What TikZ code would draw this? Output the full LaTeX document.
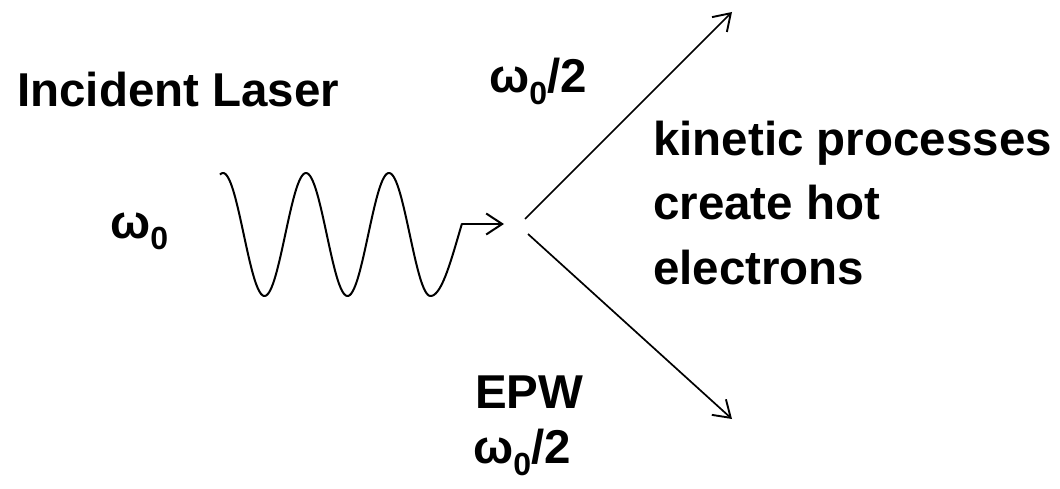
\documentclass[tikz,border=0pt]{standalone}
\usepackage{fontspec}
\setmainfont{Liberation Sans}
\usetikzlibrary{arrows.meta}
\newcommand\mysub[1]{\raisebox{-12pt}{\fontsize{32}{32}\selectfont #1}}
\tikzset{
  lbl/.style={inner sep=0pt, anchor=base west, font=\fontsize{47.5}{64}\selectfont\bfseries},
  wave/.style={line width=2pt, line join=round},
  arr/.style={line width=1.7pt, -{Straight Barb[length=16pt,width=21pt,line width=1.9pt]}},
}
\begin{document}
\begin{tikzpicture}[x=1pt,y=-1pt]
\useasboundingbox (0,0) rectangle (1060,489);
% labels
\node[lbl] (inc) at (17,107) {Incident Laser};
\node[lbl] (w0) at (110,238) {ω\mysub{0}};
\node[lbl, anchor=base east] (wtop) at (587,93) {ω\mysub{0}/2};
\node[lbl] (k1) at (653,156) {kinetic processes};
\node[lbl] (k2) at (653,220) {create hot};
\node[lbl] (k3) at (653,284) {electrons};
\node[lbl] (epw) at (475,408) {EPW};
\node[lbl] (wbot) at (473,463) {ω\mysub{0}/2};
% wave
\coordinate (wend) at (462,224);
\coordinate (wtip) at (504,224);
\draw[wave] plot[domain=220:430.5, samples=160, smooth] (\x,{234.5-61.5*cos(4.33735*(\x-223))})
  -- plot[domain=430.5:462, samples=30, smooth] (\x,{234.5-61.5*cos(180+3.18584*(\x-430.5))});
\draw[line width=2pt,-{Straight Barb[length=16pt,width=21pt,line width=2pt]}] (wend) -- (wtip);
% decay arrows
\coordinate (s1) at (525,219);
\coordinate (t1) at (732,12);
\coordinate (s2) at (528,234);
\coordinate (t2) at (732,419);
\draw[arr] (s1) -- (t1);
\draw[arr] (s2) -- (t2);
\end{tikzpicture}
\end{document}
